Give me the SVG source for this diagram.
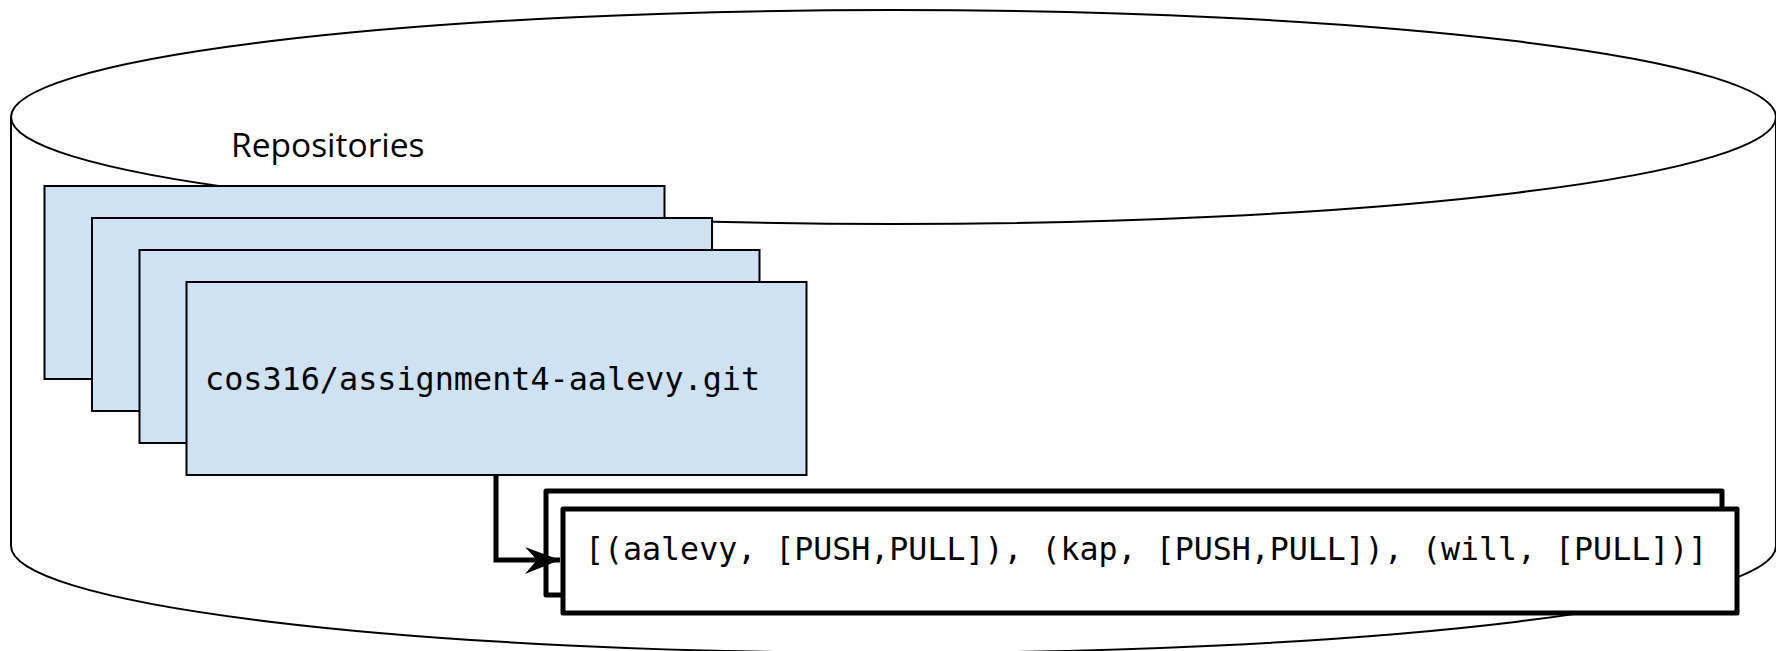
<svg xmlns="http://www.w3.org/2000/svg" width="1776" height="651" viewBox="0 0 1776 651">
  <defs>
    <style>
      .cyl { fill: #ffffff; stroke: #000000; stroke-width: 2; }
      .repo { fill: #cfe2f3; stroke: #000000; stroke-width: 2; }
      .perm { fill: #ffffff; stroke: #000000; stroke-width: 5; stroke-linejoin: round; }
      .mono { font-family: "DejaVu Sans Mono", "Liberation Mono", monospace; fill: #000000; }
      .sans { font-family: "Open Sans", "Noto Sans", sans-serif; fill: #000000; }
      .conn { fill: none; stroke: #000000; stroke-width: 5; }
    </style>
    <marker id="arrow" markerUnits="userSpaceOnUse" markerWidth="40" markerHeight="40" viewBox="-40 -20 40 40" refX="0" refY="0" orient="auto">
      <path d="M0,0 L-35,-13 L-23,0 L-35,14 Z" fill="#000000"/>
    </marker>
  </defs>

  <g id="cylinder">
    <path class="cyl" d="M11,117 L11,546 A882.5,107 0 0 0 1776,546 L1776,117"/>
    <ellipse class="cyl" cx="893.5" cy="117" rx="882.5" ry="107"/>
    <text class="sans" x="231" y="157" font-size="33.5">Repositories</text>
  </g>

  <g id="repo-1">
    <rect class="repo" x="44.5" y="186" width="620" height="193"/>
  </g>
  <g id="repo-2">
    <rect class="repo" x="92" y="218" width="620" height="193"/>
  </g>
  <g id="repo-3">
    <rect class="repo" x="139.5" y="250" width="620" height="193"/>
  </g>
  <g id="repo-4">
    <rect class="repo" x="186.5" y="282" width="620" height="193"/>
    <text class="mono" x="205" y="390" font-size="31.8">cos316/assignment4-aalevy.git</text>
  </g>

  <g id="acl-back">
    <rect class="perm" x="546" y="491" width="1176" height="104"/>
  </g>
  <g id="acl-front">
    <rect class="perm" x="563" y="509" width="1174" height="104"/>
    <text class="mono" x="585" y="560" font-size="31.6">[(aalevy, [PUSH,PULL]), (kap, [PUSH,PULL]), (will, [PULL])]</text>
  </g>

  <g id="connectors">
    <path class="conn" d="M496,475 L496,560 L560,560" marker-end="url(#arrow)"/>
  </g>
</svg>
